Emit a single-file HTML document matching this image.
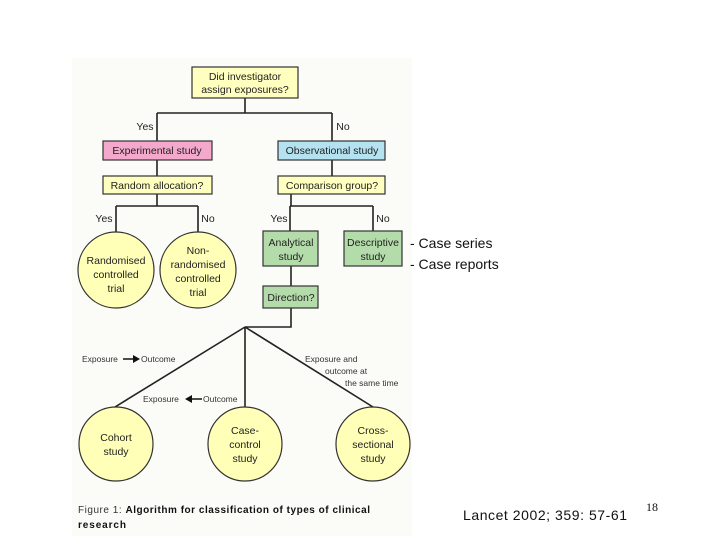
<!DOCTYPE html>
<html><head><meta charset="utf-8"><style>
body{margin:0;width:720px;height:540px;background:#fff;overflow:hidden;font-family:"Liberation Sans",sans-serif}
svg{position:absolute;left:0;top:0}
</style></head><body>
<svg width="720" height="540" viewBox="0 0 720 540" font-family="Liberation Sans, sans-serif">
<rect x="72" y="58" width="340" height="478" fill="#fbfbf8"/>
<g stroke="#222" stroke-width="1.6" fill="none">
<path d="M245 98V113M157 113H332M157 113V141M332 113V141M157 160V176M332 160V176M157 194V206M116 206H198M116 206V232M198 206V232M291 194V206M290 206H373M290 206V231M373 206V231M291 266V286M291 308V327H245M245 327L115 407M245 327V407M245 327L373 407"/>
</g>
<g stroke="#333" stroke-width="1.2">
<rect x="192" y="67" width="106" height="31" fill="#ffffc0"/>
<rect x="103" y="141" width="109" height="19" fill="#f4a8cc"/>
<rect x="278" y="141" width="107" height="19" fill="#b4e2f0"/>
<rect x="103" y="176" width="109" height="18" fill="#ffffc0"/>
<rect x="278" y="176" width="107" height="18" fill="#ffffc0"/>
<rect x="263" y="231" width="55" height="35" fill="#b4dcaa"/>
<rect x="344" y="231" width="58" height="35" fill="#b4dcaa"/>
<rect x="263" y="286" width="55" height="22" fill="#b4dcaa"/>
<circle cx="116" cy="270" r="38" fill="#ffffb8"/>
<circle cx="198" cy="270" r="38" fill="#ffffb8"/>
<circle cx="116" cy="444" r="37" fill="#ffffb8"/>
<circle cx="245" cy="444" r="37" fill="#ffffb8"/>
<circle cx="373" cy="444" r="37" fill="#ffffb8"/>
</g>
<g font-size="10.5" fill="#222" text-anchor="middle">
<text x="245" y="80">Did investigator</text><text x="245" y="93">assign exposures?</text>
<text x="157" y="154">Experimental study</text>
<text x="332" y="154">Observational study</text>
<text x="157" y="189">Random allocation?</text>
<text x="332" y="189">Comparison group?</text>
<text x="291" y="246">Analytical</text><text x="291" y="260">study</text>
<text x="373" y="246">Descriptive</text><text x="373" y="260">study</text>
<text x="291" y="301">Direction?</text>
<text x="116" y="264">Randomised</text><text x="116" y="278">controlled</text><text x="116" y="292">trial</text>
<text x="198" y="254">Non-</text><text x="198" y="268">randomised</text><text x="198" y="282">controlled</text><text x="198" y="296">trial</text>
<text x="116" y="441">Cohort</text><text x="116" y="455">study</text>
<text x="245" y="434">Case-</text><text x="245" y="448">control</text><text x="245" y="462">study</text>
<text x="373" y="434">Cross-</text><text x="373" y="448">sectional</text><text x="373" y="462">study</text>
<text x="145" y="130">Yes</text><text x="343" y="130">No</text>
<text x="104" y="222">Yes</text><text x="208" y="222">No</text>
<text x="279" y="222">Yes</text><text x="383" y="222">No</text>
</g>
<g font-size="8.5" fill="#333">
<text x="82" y="362">Exposure</text><text x="141" y="362">Outcome</text>
<path d="M123 359H134" stroke="#111" stroke-width="1.5"/><path d="M133 355L140 359L133 363Z" fill="#111"/>
<text x="143" y="402">Exposure</text><text x="203" y="402">Outcome</text>
<path d="M190 399H202" stroke="#111" stroke-width="1.5"/><path d="M192 395L185 399L192 403Z" fill="#111"/>
<text x="305" y="362">Exposure and</text><text x="325" y="374">outcome at</text><text x="345" y="386">the same time</text>
</g>
<text x="78" y="513" font-size="10" fill="#333" textLength="292" lengthAdjust="spacing">Figure 1: <tspan font-weight="bold" fill="#111">Algorithm for classification of types of clinical</tspan></text>
<text x="78" y="528" font-size="10" font-weight="bold" fill="#111" textLength="48">research</text>
<g font-size="14" fill="#111">
<text x="410" y="248">- Case series</text>
<text x="410" y="269">- Case reports</text>
<text x="463" y="520" textLength="164" lengthAdjust="spacing">Lancet 2002; 359: 57-61</text>
</g>
<text x="646" y="511" font-size="12" font-family="Liberation Serif, serif" fill="#111">18</text>
</svg>
</body></html>
